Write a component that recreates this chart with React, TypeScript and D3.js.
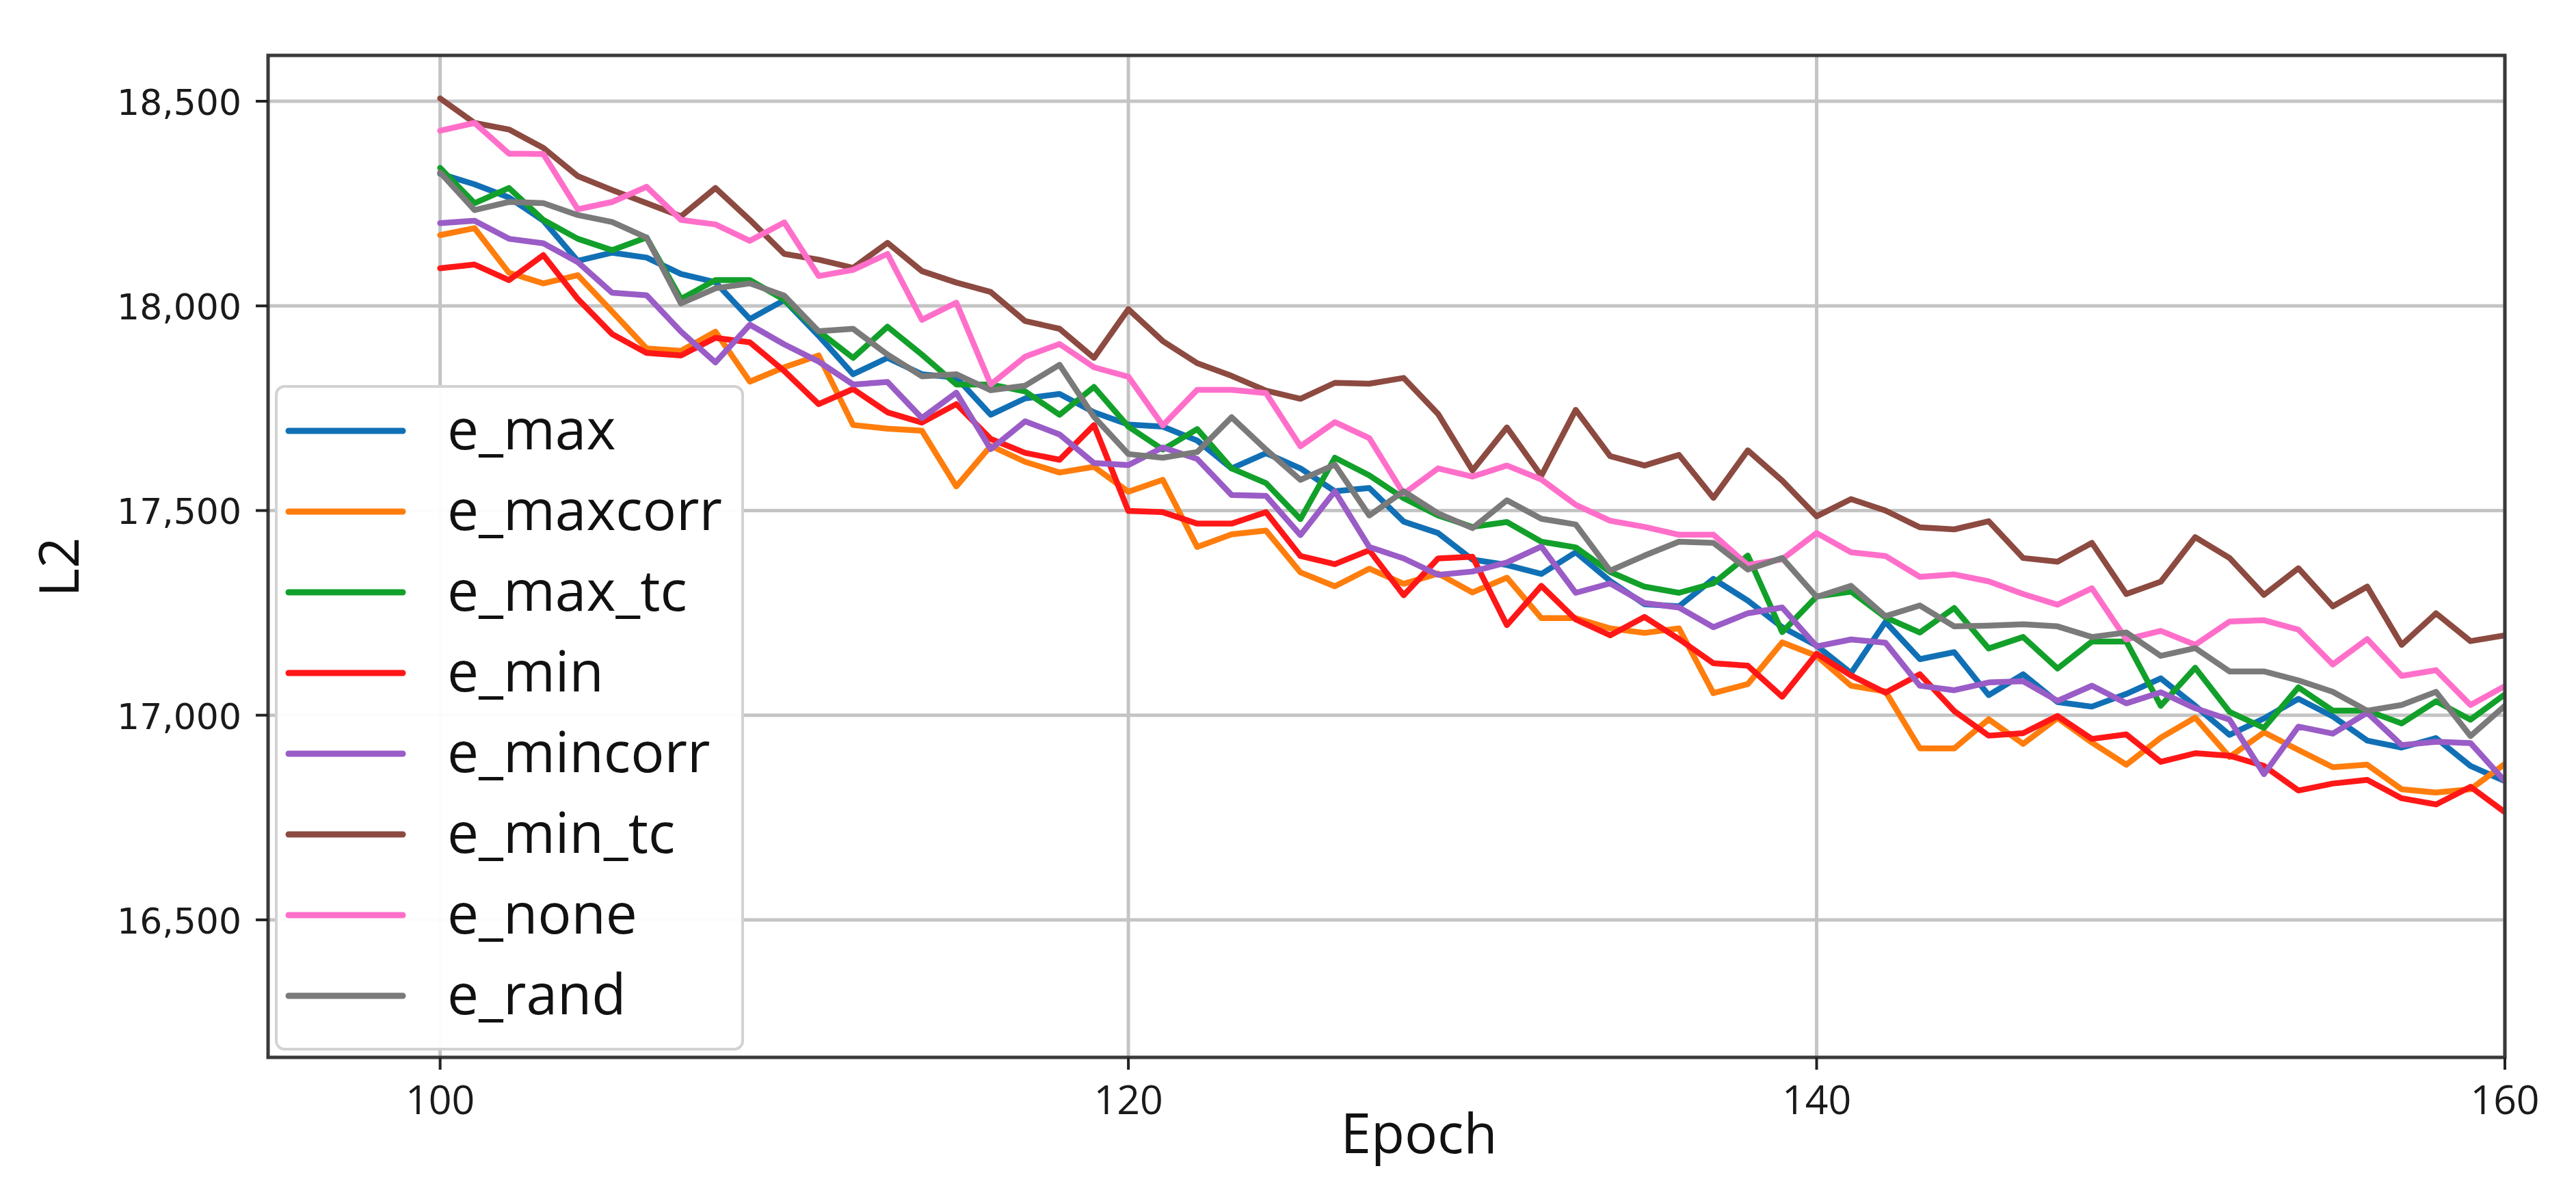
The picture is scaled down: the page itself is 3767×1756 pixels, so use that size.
import React, { useEffect } from 'react';
import * as d3 from 'd3';

const W = 3767;
const H = 1756;

// epochs run 100..160, one value per epoch
const firstEpoch = 100;
const xTicks = [100, 120, 140, 160];
const yTicks = [16500, 17000, 17500, 18000, 18500];

const eMax = [
  18323, 18297, 18265, 18208, 18110, 18130, 18118, 18078, 18058, 17968, 18014,
  17927, 17833, 17873, 17833, 17825, 17734, 17774, 17785, 17740, 17710,
  17705, 17671, 17603, 17640, 17603, 17547, 17555, 17473, 17445, 17380,
  17367, 17345, 17398, 17328, 17271, 17266, 17333, 17280, 17215, 17170,
  17103, 17228, 17137, 17154, 17049, 17100, 17032, 17021, 17052, 17090,
  17023, 16952, 16992, 17040, 16997, 16938, 16921, 16944, 16876, 16839,
];
const eMaxcorr = [
  18173, 18190, 18081, 18055, 18075, 17986, 17896, 17890, 17937, 17815, 17850,
  17879, 17709, 17700, 17695, 17559, 17658, 17619, 17593, 17607, 17546,
  17575, 17411, 17442, 17451, 17349, 17315, 17358, 17321, 17346, 17300,
  17336, 17237, 17237, 17212, 17201, 17212, 17054, 17076, 17178, 17145,
  17072, 17058, 16919, 16919, 16990, 16930, 16993, 16933, 16879, 16945,
  16994, 16898, 16958, 16915, 16873, 16879, 16819, 16811, 16819, 16881,
];
const eMaxTc = [
  18337, 18251, 18288, 18210, 18164, 18136, 18167, 18017, 18063, 18063, 18015,
  17938, 17873, 17949, 17881, 17808, 17808, 17791, 17734, 17802, 17705,
  17649, 17699, 17603, 17567, 17479, 17629, 17586, 17530, 17488, 17460,
  17472, 17424, 17410, 17350, 17314, 17299, 17322, 17390, 17203, 17290,
  17302, 17239, 17202, 17262, 17163, 17191, 17114, 17180, 17180, 17023,
  17116, 17008, 16969, 17068, 17011, 17011, 16980, 17034, 16989, 17051,
];
const eMin = [
  18092, 18101, 18063, 18124, 18017, 17931, 17885, 17879, 17922, 17911, 17841,
  17760, 17797, 17740, 17715, 17760, 17675, 17641, 17624, 17709, 17499,
  17496, 17468, 17468, 17496, 17389, 17369, 17403, 17293, 17383, 17387,
  17220, 17316, 17234, 17195, 17240, 17186, 17127, 17121, 17045, 17150,
  17097, 17055, 17100, 17010, 16950, 16956, 16998, 16942, 16953, 16886,
  16907, 16901, 16876, 16816, 16833, 16842, 16797, 16782, 16825, 16763,
];
const eMincorr = [
  18202, 18208, 18164, 18153, 18107, 18032, 18026, 17937, 17862, 17954, 17906,
  17864, 17808, 17814, 17726, 17788, 17650, 17718, 17686, 17616, 17611,
  17654, 17626, 17538, 17536, 17440, 17547, 17411, 17383, 17343, 17351,
  17373, 17412, 17299, 17322, 17274, 17263, 17215, 17249, 17263, 17168,
  17185, 17177, 17072, 17061, 17080, 17083, 17035, 17072, 17029, 17056,
  17017, 16989, 16856, 16972, 16955, 17006, 16927, 16935, 16932, 16839,
];
const eMinTc = [
  18507, 18447, 18431, 18386, 18317, 18283, 18251, 18219, 18288, 18210, 18127,
  18113, 18093, 18154, 18085, 18057, 18034, 17963, 17944, 17873, 17992,
  17914, 17860, 17829, 17793, 17773, 17812, 17810, 17824, 17736, 17598,
  17703, 17585, 17746, 17633, 17610, 17636, 17531, 17647, 17573, 17486,
  17528, 17500, 17459, 17454, 17474, 17384, 17375, 17421, 17296, 17326,
  17435, 17384, 17294, 17359, 17266, 17314, 17172, 17249, 17181, 17195,
];
const eNone = [
  18428, 18447, 18372, 18371, 18236, 18254, 18291, 18210, 18199, 18159, 18204,
  18073, 18088, 18127, 17966, 18008, 17808, 17876, 17907, 17850, 17827,
  17708, 17795, 17795, 17787, 17657, 17716, 17677, 17541, 17603, 17583,
  17610, 17576, 17514, 17475, 17460, 17441, 17441, 17367, 17381, 17445,
  17398, 17389, 17338, 17344, 17327, 17296, 17270, 17310, 17185, 17206,
  17172, 17229, 17232, 17209, 17124, 17186, 17096, 17110, 17025, 17071,
];
const eRand = [
  18326, 18234, 18254, 18251, 18222, 18205, 18167, 18006, 18043, 18055, 18025,
  17938, 17944, 17881, 17828, 17833, 17794, 17805, 17856, 17729, 17638,
  17629, 17643, 17728, 17649, 17575, 17612, 17488, 17547, 17493, 17457,
  17525, 17480, 17466, 17353, 17390, 17424, 17421, 17356, 17384, 17289,
  17316, 17242, 17268, 17217, 17219, 17222, 17217, 17191, 17202, 17145,
  17164, 17107, 17107, 17085, 17057, 17011, 17025, 17057, 16949, 17023,
];

const seriesNames = ['e_max', 'e_maxcorr', 'e_max_tc', 'e_min', 'e_mincorr', 'e_min_tc', 'e_none', 'e_rand'];
const seriesValues = [eMax, eMaxcorr, eMaxTc, eMin, eMincorr, eMinTc, eNone, eRand];
const seriesColors = ['#1170b5', '#ff7d0c', '#12a02a', '#ff1717', '#9a5cc6', '#8c4a40', '#ff6fca', '#7a7a7a'];

export default function App() {
  useEffect(() => {
    document.body.style.margin = '0';
  }, []);

  const left = 392, right = 3663, top = 81, bottom = 1546;

  const x = d3.scaleLinear().domain([95, 160]).range([left, right]);
  const y = d3.scaleLinear().domain([16164, 18612]).range([bottom, top]);

  const line = d3.line<number>()
    .x((_, i) => x(firstEpoch + i))
    .y(d => y(d));

  const fmt = d3.format(',');

  // legend box
  const lg = { x: 404, y: 565, w: 682, h: 969 };
  const lgRow0 = 630, lgStep = 118;

  return (
    <svg width={W} height={H} style={{ display: 'block', background: '#fff' }}>
      <defs>
        <clipPath id="plot">
          <rect x={left} y={top} width={right - left} height={bottom - top} />
        </clipPath>
      </defs>

      {/* grid */}
      <g stroke="#c4c4c4" strokeWidth={5}>
        {xTicks.map(t => (
          <line key={'gx' + t} x1={x(t)} x2={x(t)} y1={top} y2={bottom} />
        ))}
        {yTicks.map(t => (
          <line key={'gy' + t} x1={left} x2={right} y1={y(t)} y2={y(t)} />
        ))}
      </g>

      {/* series */}
      <g clipPath="url(#plot)" fill="none" strokeWidth={8.5} strokeLinejoin="round" strokeLinecap="round">
        {seriesValues.map((vals, i) => (
          <path key={seriesNames[i]} d={line(vals) || ''} stroke={seriesColors[i]} />
        ))}
      </g>

      {/* frame */}
      <rect x={left} y={top} width={right - left} height={bottom - top} fill="none" stroke="#3a3a3a" strokeWidth={5} />

      {/* x ticks */}
      <g>
        {xTicks.map(t => (
          <g key={'xt' + t}>
            <line x1={x(t)} x2={x(t)} y1={bottom} y2={bottom + 18} stroke="#222" strokeWidth={4} />
            <text x={x(t)} y={1629} textAnchor="middle" fontFamily="'Open Sans', sans-serif" fontSize={59} fill="#1a1a1a">
              {t}
            </text>
          </g>
        ))}
      </g>

      {/* y ticks */}
      <g>
        {yTicks.map(t => (
          <g key={'yt' + t}>
            <line x1={left - 18} x2={left} y1={y(t)} y2={y(t)} stroke="#222" strokeWidth={4} />
            <text x={353} y={y(t) + 20} textAnchor="end" fontFamily="'DejaVu Sans', sans-serif" fontSize={52} fill="#1a1a1a">
              {fmt(t)}
            </text>
          </g>
        ))}
      </g>

      {/* axis titles */}
      <text x={2075} y={1686} textAnchor="middle" fontFamily="'Open Sans', sans-serif" fontSize={80} fill="#111">
        Epoch
      </text>
      <text
        transform="translate(83,829) rotate(-90)"
        textAnchor="middle"
        dominantBaseline="central"
        fontFamily="'Open Sans', sans-serif"
        fontSize={80}
        fill="#111"
      >
        L2
      </text>

      {/* legend */}
      <rect x={lg.x} y={lg.y} width={lg.w} height={lg.h} rx={12} fill="#fff" fillOpacity={0.95} stroke="#d2d2d2" strokeWidth={4} />
      {seriesNames.map((name, i) => {
        const ly = lgRow0 + i * lgStep;
        return (
          <g key={'lg' + name}>
            <line x1={422} x2={589} y1={ly} y2={ly} stroke={seriesColors[i]} strokeWidth={9} strokeLinecap="round" />
            <text x={654} y={ly + 27} fontFamily="'Open Sans', sans-serif" fontSize={82} fill="#111">
              {name}
            </text>
          </g>
        );
      })}
    </svg>
  );
}
